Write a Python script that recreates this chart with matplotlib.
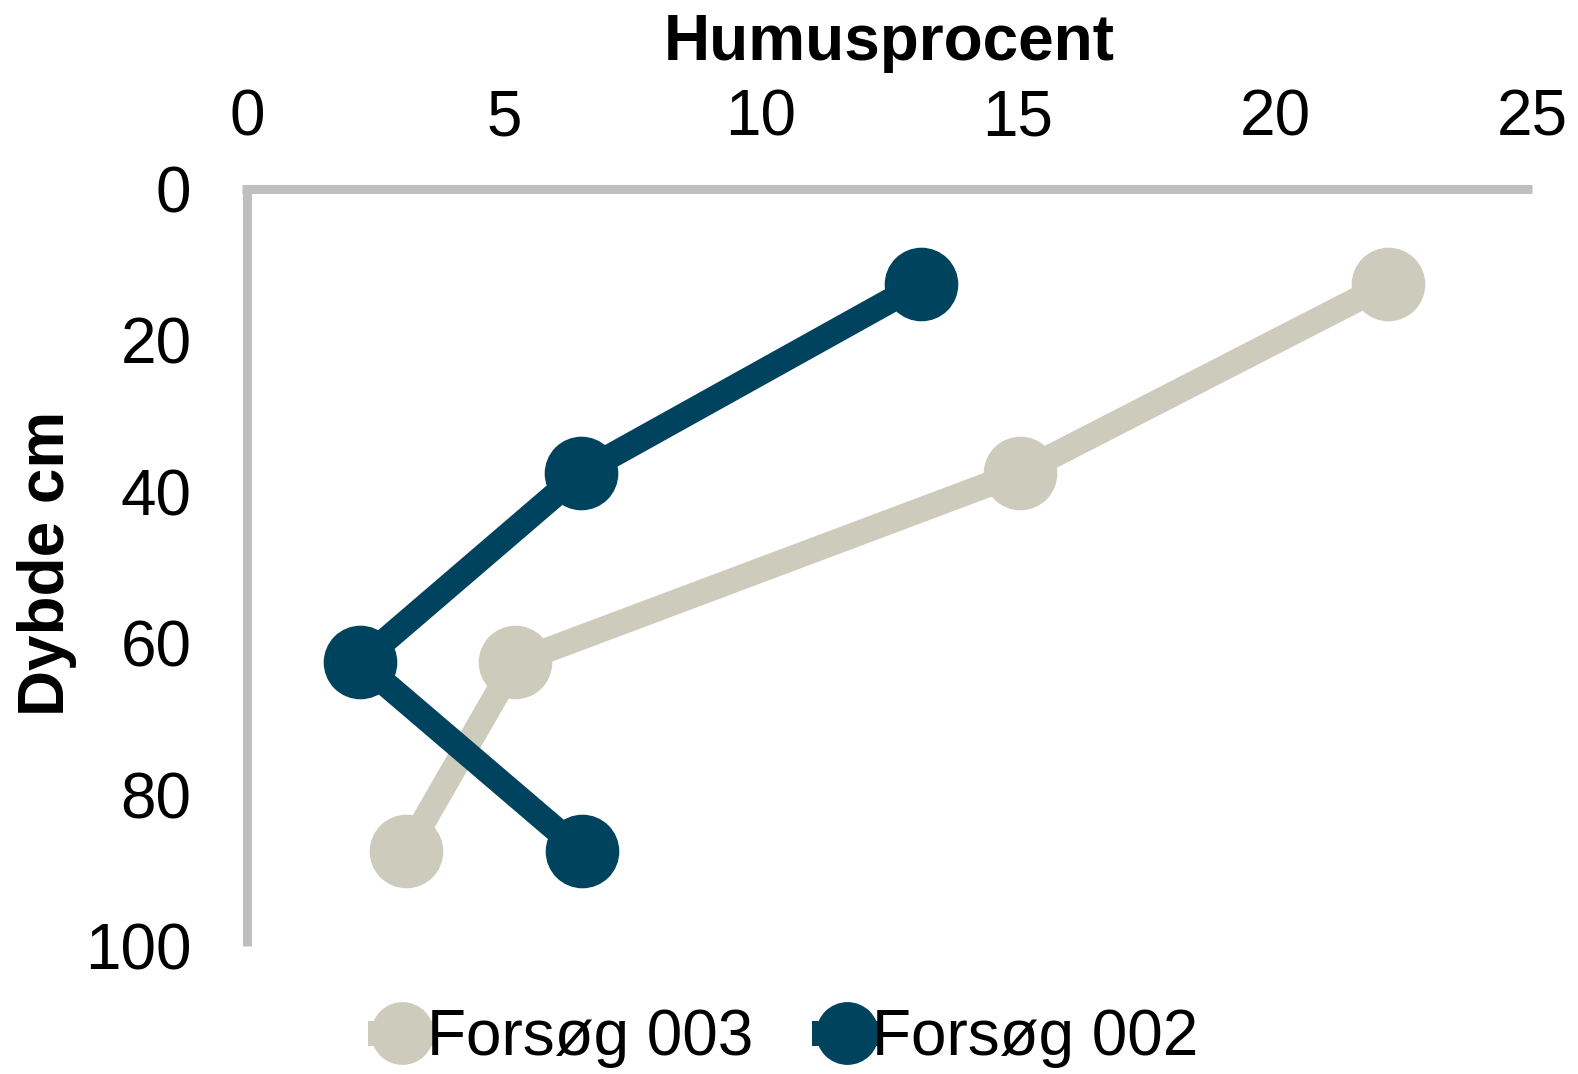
import matplotlib
matplotlib.use("Agg")
import matplotlib.pyplot as plt

plt.rcParams['font.family'] = ['Liberation Sans', 'DejaVu Sans']

depth = [12.5, 37.5, 62.5, 87.5]
forsog_003 = [22.2, 15.03, 5.22, 3.1]
forsog_002 = [13.11, 6.49, 2.2, 6.51]
series_names = ["Forsøg 003", "Forsøg 002"]
x_ticks = [0, 5, 10, 15, 20, 25]
y_ticks = [0, 20, 40, 60, 80, 100]

W, H = 1578, 1074
fig = plt.figure(figsize=(W / 100, H / 100), dpi=100)
L, R, T, B = 247, 1532, 189, 946
ax = fig.add_axes([L / W, 1 - B / H, (R - L) / W, (B - T) / H])

c3 = "#CDCCBC"
c2 = "#00435E"
ax.plot(forsog_003, depth, color=c3, lw=18, marker="o", ms=52, label=series_names[0],
        clip_on=False, zorder=3, solid_joinstyle="miter")
ax.plot(forsog_002, depth, color=c2, lw=18, marker="o", ms=52, label=series_names[1],
        clip_on=False, zorder=4, solid_joinstyle="miter")

ax.set_xlim(0, 25)
ax.set_ylim(100, 0)
ax.xaxis.tick_top()
ax.set_xticks(x_ticks)
ax.set_yticks(y_ticks)
ax.tick_params(axis="both", length=0, labelsize=46)
ax.tick_params(axis="x", pad=29)
ax.tick_params(axis="y", pad=40)
for s in ["right", "bottom"]:
    ax.spines[s].set_visible(False)
for s in ["top", "left"]:
    ax.spines[s].set_color("#BFBFBF")
    ax.spines[s].set_linewidth(6.5)
    ax.spines[s].set_capstyle("butt")
ax.spines["top"].set_bounds(-0.09, 25)

fig.text(889 / W, 1 - 60 / H, "Humusprocent", fontsize=46, fontweight="bold",
         ha="center", va="baseline")
fig.text(47 / W, 1 - 563 / H, "Dybde cm", fontsize=46, fontweight="bold",
         ha="center", va="center", rotation=90)

leg = fig.legend(loc="center", bbox_to_anchor=(0.5, 1 - 1038 / H), ncol=2, frameon=False,
                 fontsize=46, handlelength=0.7, handletextpad=0.05, columnspacing=1.1,
                 markerscale=0.85)

fig.savefig("out.png", dpi=100)
